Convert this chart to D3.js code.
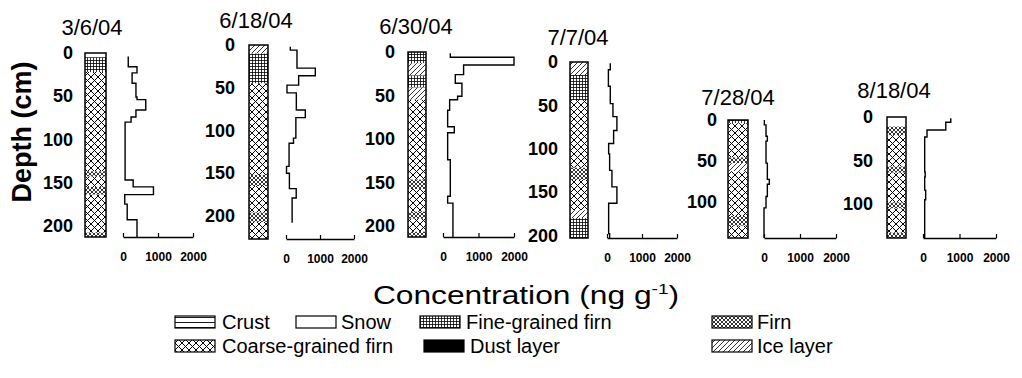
<!DOCTYPE html>
<html>
<head>
<meta charset="utf-8">
<script src="https://cdn.jsdelivr.net/npm/d3@7"></script>
<style>
  body { margin: 0; background: #fff; }
  svg { display: block; }
  text { font-family: "Liberation Sans", Arial, sans-serif; fill: #000; }
</style>
</head>
<body>
<svg id="chart" width="1022" height="378"></svg>
<script>
// ---- Snow-pit data: sampling dates, core depths (cm), tick values ----
const dates = ["3/6/04", "6/18/04", "6/30/04", "7/7/04", "7/28/04", "8/18/04"];
const coreDepth = [213, 227, 213, 203, 145, 139];
const depthTicksLong = [0, 50, 100, 150, 200];
const depthTicksShort = [0, 50, 100];
const concTicks = [0, 1000, 2000];
const concMax = 2000;

// ---- Concentration profiles (ng g-1): interval boundaries (cm) and values ----
const depth_0306 = [4, 16, 23, 35, 51, 54, 66, 74, 80, 147, 155, 164, 175, 193, 213];
const conc_0306  = [150, 400, 260, 370, 400, 650, 370, 230, 60, 290, 870, 50, 120, 400];

const depth_0618 = [2, 6, 27, 36, 47, 56, 76, 85, 109, 115, 142, 150, 168, 179, 208];
const conc_0618  = [127, 323, 862, 372, 29, 304, 568, 290, 220, 90, 15, 100, 300, 180];

const depth_0630 = [1.5, 6, 15, 26, 36, 51, 55, 67, 86, 93, 124, 166, 174, 213];
const conc_0630  = [206, 2000, 580, 346, 533, 411, 187, 131, 318, 131, 206, 131, 280];

const depth_0707 = [1.5, 9, 28, 48, 63, 79, 94, 106, 125, 144, 163, 198, 203];
const conc_0707  = [94, 40, 94, 170, 283, 189, 47, 75, 141, 283, 47, 75];

const depth_0728 = [0, 6, 20, 26, 53, 73, 79, 94, 108, 145];
const conc_0728  = [10, 56, 93, 56, 93, 148, 93, 56, 0];

const depth_0818 = [1.5, 6, 15, 23, 63, 69, 84, 95, 139];
const conc_0818  = [761, 624, 110, 46, 60, 46, 73, 46];

// ---- Stratigraphy: [top cm, bottom cm, layer type] ----
const strata_0306 = [[0,5,"crust"],[5,22,"fine"],[22,137,"coarse"],[137,143,"firn"],[143,155,"coarse"],[155,164,"firn"],[164,208,"coarse"],[208,213,"firn"]];
const strata_0618 = [[0,10,"ice"],[10,45,"fine"],[45,152,"coarse"],[152,165,"firn"],[165,196,"coarse"],[196,207,"firn"],[207,227,"coarse"]];
const strata_0630 = [[0,13,"fine"],[13,27,"ice"],[27,41,"fine"],[41,55,"ice"],[55,147,"coarse"],[147,158,"firn"],[158,184,"coarse"],[184,192,"firn"],[192,207,"coarse"],[207,213,"firn"]];
const strata_0707 = [[0,15,"ice"],[15,44,"fine"],[44,122,"coarse"],[122,136,"firn"],[136,171,"coarse"],[171,180,"ice"],[180,203,"fine"]];
const strata_0728 = [[0,4,"fine"],[4,46,"coarse"],[46,53,"firn"],[53,63,"ice"],[63,118,"coarse"],[118,130,"firn"],[130,145,"coarse"]];
const strata_0818 = [[0,11,"snow"],[11,21,"firn"],[21,57,"coarse"],[57,64,"firn"],[64,98,"coarse"],[98,105,"firn"],[105,133,"coarse"],[133,139,"firn"]];

// ---- Legend ----
const legendKeys   = ["crust", "snow", "fine", "firn", "coarse", "dust", "ice"];
const legendLabels = ["Crust", "Snow", "Fine-grained firn", "Firn", "Coarse-grained firn", "Dust layer", "Ice layer"];

const profiles = [
  [depth_0306, conc_0306], [depth_0618, conc_0618], [depth_0630, conc_0630],
  [depth_0707, conc_0707], [depth_0728, conc_0728], [depth_0818, conc_0818]
];
const strata = [strata_0306, strata_0618, strata_0630, strata_0707, strata_0728, strata_0818];
const depthTicks = [depthTicksLong, depthTicksLong, depthTicksLong, depthTicksLong, depthTicksShort, depthTicksShort];

// ---- Panel placement ----
const layout = [
  {labelR: 73,  colX: 85,  colW: 21, axX: 123, axW: 70, yTop: 53,  yBot: 237, titleX: 92,  titleY: 35},
  {labelR: 235, colX: 249, colW: 19, axX: 286, axW: 68, yTop: 45,  yBot: 239, titleX: 256, titleY: 28},
  {labelR: 395, colX: 408, colW: 18, axX: 443, axW: 71, yTop: 52,  yBot: 237, titleX: 416, titleY: 34},
  {labelR: 558, colX: 570, colW: 18, axX: 607, axW: 70, yTop: 62,  yBot: 238, titleX: 578, titleY: 45},
  {labelR: 717, colX: 728, colW: 20, axX: 764, axW: 72, yTop: 120, yBot: 238, titleX: 738, titleY: 105},
  {labelR: 873, colX: 887, colW: 19, axX: 923, axW: 73, yTop: 117, yBot: 238, titleX: 894, titleY: 98}
];

const svg = d3.select("#chart");
const defs = svg.append("defs");

// Hatch patterns for the layer types
function pattern(id, w, h, draw) {
  const p = defs.append("pattern").attr("id", id).attr("patternUnits", "userSpaceOnUse")
    .attr("width", w).attr("height", h);
  p.append("rect").attr("width", w).attr("height", h).attr("fill", "#fff");
  draw(p);
}
pattern("pat-crust", 6, 5, p => p.append("path").attr("d", "M0,2.5H6").attr("stroke", "#000").attr("stroke-width", 0.9));
pattern("pat-snow", 6, 6, p => {});
pattern("pat-fine", 3, 3, p => p.append("path").attr("d", "M0,0.5H3M0.5,0V3").attr("stroke", "#000").attr("stroke-width", 0.8));
pattern("pat-firn", 4, 4, p => p.append("path").attr("d", "M0,0L4,4M4,0L0,4").attr("stroke", "#000").attr("stroke-width", 0.8));
pattern("pat-coarse", 7, 7, p => p.append("path").attr("d", "M0,0L7,7M7,0L0,7").attr("stroke", "#000").attr("stroke-width", 1));
pattern("pat-ice", 5, 5, p => p.append("path").attr("d", "M-1,6L6,-1M-1,1L1,-1M4,6L6,4").attr("stroke", "#000").attr("stroke-width", 0.8));
pattern("pat-dust", 6, 6, p => p.select("rect").attr("fill", "#000"));

const fillFor = k => `url(#pat-${k})`;

layout.forEach((L, i) => {
  const g = svg.append("g");
  const y = d3.scaleLinear().domain([0, coreDepth[i]]).range([L.yTop, L.yBot]);
  const x = d3.scaleLinear().domain([0, concMax]).range([L.axX, L.axX + L.axW]);

  // Date title
  g.append("text").attr("x", L.titleX).attr("y", L.titleY).attr("text-anchor", "middle")
    .attr("font-size", 22).text(dates[i]);

  // Depth labels
  const yAxis = d3.axisLeft(y).tickValues(depthTicks[i]).tickSize(0).tickPadding(0).tickFormat(d3.format("d"));
  const ya = g.append("g").attr("transform", `translate(${L.labelR},0)`).call(yAxis);
  ya.select(".domain").remove();
  ya.selectAll("text").attr("font-size", 18).attr("font-weight", "bold")
    .attr("font-family", "'Liberation Sans', Arial, sans-serif").attr("fill", "#000");

  // Stratigraphy column
  g.selectAll("rect.layer").data(strata[i]).join("rect").attr("class", "layer")
    .attr("x", L.colX).attr("width", L.colW)
    .attr("y", d => y(d[0])).attr("height", d => y(d[1]) - y(d[0]))
    .attr("fill", d => fillFor(d[2]));
  g.append("rect").attr("x", L.colX).attr("y", y(0)).attr("width", L.colW)
    .attr("height", y(coreDepth[i]) - y(0)).attr("fill", "none").attr("stroke", "#000").attr("stroke-width", 1.5);

  // Concentration axis
  const xAxis = d3.axisBottom(x).tickValues(concTicks).tickSize(-4).tickSizeOuter(0).tickPadding(15)
    .tickFormat(d3.format("d"));
  const xa = g.append("g").attr("transform", `translate(0,${L.yBot})`).call(xAxis);
  xa.select(".domain").attr("stroke-width", 1.5);
  xa.selectAll(".tick line").attr("stroke-width", 1.2);
  xa.selectAll("text").attr("font-size", 12).attr("font-weight", "bold")
    .attr("font-family", "'Liberation Sans', Arial, sans-serif").attr("fill", "#000");

  // Stepped concentration profile
  const [dep, con] = profiles[i];
  const pts = [];
  con.forEach((c, k) => { pts.push([c, dep[k]]); pts.push([c, dep[k + 1]]); });
  const line = d3.line().x(d => x(d[0])).y(d => y(d[1]));
  g.append("path").attr("d", line(pts)).attr("fill", "none").attr("stroke", "#000")
    .attr("stroke-width", 1.4).attr("stroke-linejoin", "miter");
});

// Axis titles
svg.append("text").attr("transform", "translate(31,132) rotate(-90)").attr("text-anchor", "middle")
  .attr("font-size", 27).attr("font-weight", "bold").text("Depth (cm)");

const ct = svg.append("g").attr("transform", "translate(526,304) scale(1.27,1)")
  .append("text").attr("x", 0).attr("y", 0).attr("text-anchor", "middle").attr("font-size", 25);
ct.append("tspan").text("Concentration (ng g");
ct.append("tspan").attr("dy", -10).attr("font-size", 15).text("-1");
ct.append("tspan").attr("dy", 10).text(")");

// Legend
const legendPos = [
  {x: 175, tx: 222, y: 329}, {x: 296, tx: 341, y: 329}, {x: 420, tx: 466, y: 329}, {x: 712, tx: 757, y: 329},
  {x: 175, tx: 222, y: 353}, {x: 424, tx: 470, y: 353}, {x: 712, tx: 757, y: 353}
];
const lg = svg.append("g");
legendKeys.forEach((k, i) => {
  const P = legendPos[i];
  lg.append("rect").attr("x", P.x).attr("y", P.y - 13).attr("width", 40).attr("height", 12)
    .attr("fill", fillFor(k)).attr("stroke", "#000").attr("stroke-width", 1.2);
  lg.append("text").attr("x", P.tx).attr("y", P.y).attr("font-size", 20).text(legendLabels[i]);
});
</script>
</body>
</html>
